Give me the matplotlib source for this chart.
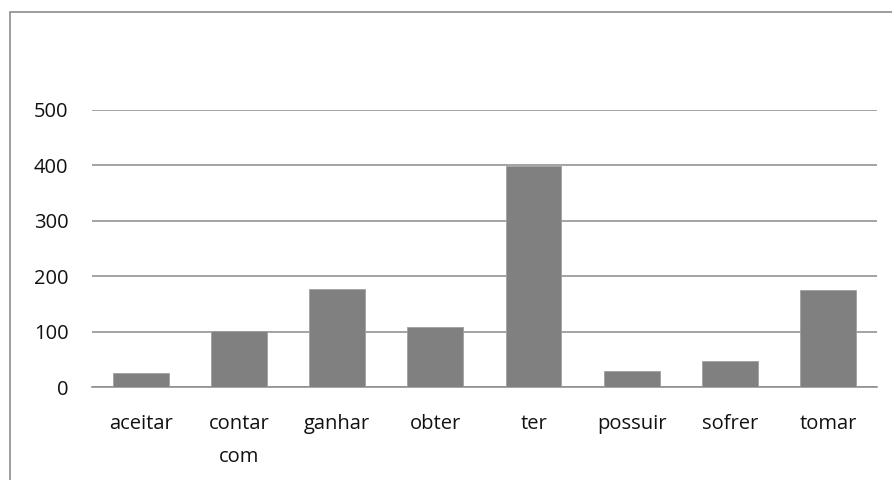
import matplotlib.pyplot as plt
from matplotlib.patches import Rectangle

verbs = ['aceitar', 'contar\ncom', 'ganhar', 'obter', 'ter', 'possuir', 'sofrer', 'tomar']
counts = [26, 102, 178, 109, 399, 30, 48, 175]
yticks = [0, 100, 200, 300, 400, 500]

plt.rcParams['font.family'] = ['Open Sans', 'DejaVu Sans']

fig = plt.figure(figsize=(8.92, 4.8), dpi=100)
ax = fig.add_axes([0.1031, 0.193, 0.88, 0.578])

# outer chart border (runs off the image at right/bottom)
fig.patches.append(Rectangle((10/892, -0.5), 2, 0.5 + 1 - 12/480, transform=fig.transFigure,
                             fill=False, edgecolor='#8c8c8c', lw=1.2))

x = list(range(len(verbs)))
ax.bar(x, counts, width=0.57, color='#808080', edgecolor='#a0a0a0', lw=0.6, zorder=3)

ax.set_xlim(-0.5, len(verbs) - 0.5)
ax.set_ylim(0, 500)
ax.set_yticks(yticks)
ax.set_xticks(x)
ax.set_xticklabels(verbs, fontsize=14.5, color='#111111', linespacing=1.9)
ax.tick_params(axis='y', length=0, pad=17, labelsize=14.5, labelcolor='#111111')
ax.tick_params(axis='x', length=0, pad=19)
ax.grid(axis='y', color='#8a8a8a', lw=1.1, zorder=0)
for s in ['top', 'right', 'left']:
    ax.spines[s].set_visible(False)
ax.spines['bottom'].set_color('#8a8a8a')
ax.spines['bottom'].set_linewidth(1.1)

fig.savefig('out.png', dpi=100)
